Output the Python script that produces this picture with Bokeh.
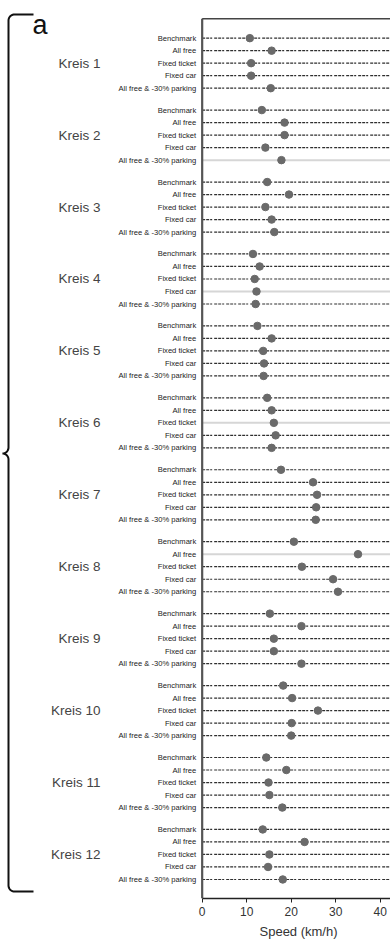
import numpy as np
from bokeh.plotting import figure
from bokeh.models import Range1d, LinearAxis, FixedTicker, ColumnDataSource, Title
from bokeh.embed import file_html
from bokeh.resources import INLINE
from bokeh.core.properties import value

# ---- data -------------------------------------------------------------
districts = ["Kreis 1", "Kreis 2", "Kreis 3", "Kreis 4", "Kreis 5", "Kreis 6",
             "Kreis 7", "Kreis 8", "Kreis 9", "Kreis 10", "Kreis 11", "Kreis 12"]
scenarios = ["Benchmark", "All free", "Fixed ticket", "Fixed car",
             "All free & -30% parking"]

# mean speed (km/h) per district and scenario
benchmark    = [10.7, 13.4, 14.6, 11.4, 12.4, 14.6, 17.7, 20.6, 15.2, 18.2, 14.4, 13.6]
all_free     = [15.6, 18.5, 19.5, 12.9, 15.6, 15.6, 24.9, 35.0, 22.3, 20.2, 18.9, 23.0]
fixed_ticket = [11.0, 18.5, 14.2, 11.8, 13.7, 16.1, 25.8, 22.4, 16.1, 26.0, 14.9, 15.1]
fixed_car    = [11.0, 14.2, 15.6, 12.2, 13.9, 16.5, 25.6, 29.4, 16.1, 20.1, 15.1, 14.8]
free_parking = [15.4, 17.8, 16.2, 12.0, 13.8, 15.6, 25.5, 30.5, 22.3, 20.0, 18.0, 18.1]

# rows drawn with a light solid guide instead of the dashed one
highlighted = [("Kreis 2", "All free & -30% parking"), ("Kreis 4", "Fixed car"),
               ("Kreis 6", "Fixed ticket"), ("Kreis 8", "All free")]

x_ticks = [0, 10, 20, 30, 40]
x_title = "Speed (km/h)"

# ---- layout -----------------------------------------------------------
W, H = 390, 943
FRAME_H = 898
GROUP_STEP = 5.75              # rows per district incl. the gap
X_LO, X_HI = -45.3, 42.3       # left part of the frame holds the labels
Y_HI, Y_LO = 3.01, -68.77
FONT = "Liberation Sans"

def sx(px):
    return X_LO + px / W * (X_HI - X_LO)

def sy(py):
    return Y_HI - py / FRAME_H * (Y_HI - Y_LO)

series = [benchmark, all_free, fixed_ticket, fixed_car, free_parking]
rows = dict(x=[], y=[], scen=[], dist=[], hl=[])
for g, d in enumerate(districts):
    for i, s in enumerate(scenarios):
        rows["x"].append(series[i][g])
        rows["y"].append(-(g * GROUP_STEP + i))
        rows["scen"].append(s)
        rows["dist"].append(d)
        rows["hl"].append((d, s) in highlighted)

src = ColumnDataSource(rows)
dash_src = ColumnDataSource({k: [v for v, h in zip(rows[k], rows["hl"]) if not h] for k in rows})
hl_src = ColumnDataSource({k: [v for v, h in zip(rows[k], rows["hl"]) if h] for k in rows})

p = figure(width=W, height=H, output_backend="svg", toolbar_location=None,
           x_range=Range1d(X_LO, X_HI), y_range=Range1d(Y_LO, Y_HI),
           x_axis_location=None, y_axis_location=None,
           min_border_left=0, min_border_right=0, min_border_top=0,
           min_border_bottom=H - FRAME_H)
p.outline_line_color = None
p.grid.visible = False
p.background_fill_color = "white"

# guide lines for each row
p.segment(x0=0, x1=X_HI, y0="y", y1="y", source=dash_src,
          line_color="#2e2e2e", line_width=1.2, line_dash="3 1 3 1 2 2")
p.segment(x0=0, x1=X_HI, y0="y", y1="y", source=hl_src,
          line_color="#d6d6d6", line_width=2)

# the speed markers
p.scatter("x", "y", source=src, size=7.5, fill_color="#6a6a6a",
          line_color="#6a6a6a")

# frame: left axis line and top border
top_y = sy(18.3)
p.segment(x0=[0], x1=[0], y0=[top_y], y1=[Y_LO], line_color="#555555", line_width=2.2)
p.segment(x0=[0], x1=[X_HI], y0=[top_y], y1=[top_y], line_color="#444444", line_width=1.5)

# scenario labels next to the axis
p.text(x=0, y="y", text="scen", source=src, x_offset=-6,
       text_align="right", text_baseline="middle",
       text_font=value(FONT), text_font_size="7.6px", text_color="#222222")

# district labels
centers = [-(g * GROUP_STEP + 2) for g in range(len(districts))]
p.text(x=sx(100), y=centers, text=districts, text_align="right",
       text_baseline="middle", text_font=value(FONT),
       text_font_size="13.5px", text_color="#444444")

# brace spanning all districts, and the panel letter
def arc(cx, cy, r, a0, a1, n=12):
    t = np.linspace(a0, a1, n)
    return list(cx + r * np.cos(t)), list(cy + r * np.sin(t))

bx, by = [33.0], [14.0]
ax_, ay_ = arc(14, 20, 6, -np.pi / 2, -np.pi)
bx += ax_; by += ay_
ax_, ay_ = arc(2, 447, 6, 0, np.pi / 2)
bx += ax_; by += ay_
ax_, ay_ = arc(2, 459, 6, -np.pi / 2, 0)
bx += ax_; by += ay_
ax_, ay_ = arc(14, 885, 6, np.pi, np.pi / 2)
bx += ax_; by += ay_
bx.append(33.0); by.append(891.0)
p.line(x=[sx(v) for v in bx], y=[sy(v) for v in by],
       line_color="#111111", line_width=2)

p.text(x=[sx(32)], y=[sy(24)], text=["a"], text_align="left",
       text_baseline="alphabetic", text_font=value(FONT),
       text_font_size="27px", text_color="#111111")

# x axis (title placed under the drawn part of the axis)
xa = LinearAxis(bounds=(0, X_HI), ticker=FixedTicker(ticks=x_ticks))
xa.minor_tick_line_color = None
xa.major_tick_out = 4
xa.major_tick_in = 0
xa.axis_line_width = 1.5
xa.axis_line_color = "#222222"
xa.major_tick_line_color = "#222222"
xa.major_label_standoff = 4
xa.major_label_text_font = FONT
xa.major_label_text_font_size = "12px"
xa.major_label_text_color = "#333333"
p.add_layout(xa, "below")

xt = Title(text=x_title, align="left", offset=259, standoff=6,
           text_font=FONT, text_font_size="13px", text_font_style="normal",
           text_color="#333333")
p.add_layout(xt, "below")

open("out.html", "w").write(file_html(p, INLINE))
